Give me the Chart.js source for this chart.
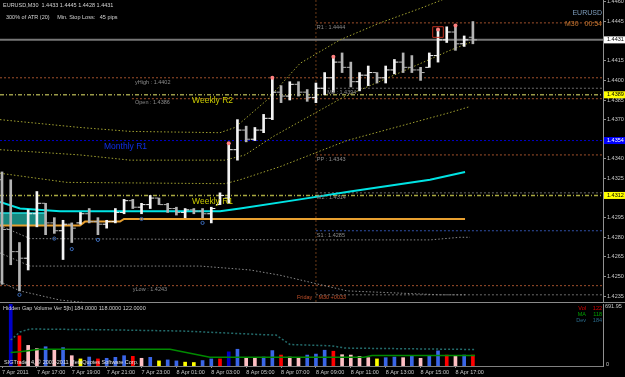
<!DOCTYPE html>
<html>
<head>
<meta charset="utf-8">
<title>EURUSD M30</title>
<script src="https://cdn.jsdelivr.net/npm/chart.js@4.4.1/dist/chart.umd.min.js"></script>
<style>
  html, body { margin: 0; padding: 0; background: #000; }
  #wrap { position: relative; width: 625px; height: 377px; overflow: hidden; background: #000; }
  #precos { position: absolute; left: 0; top: 0; }
  #volume { position: absolute; left: 0; top: 304px; }
  .sep { position: absolute; left: 0; width: 625px; height: 1px; background: #8a8a8a; }
</style>
</head>
<body>
<div id="wrap">
  <canvas id="precos" width="625" height="302"></canvas>
  <div class="sep" style="top:302px"></div>
  <canvas id="volume" width="625" height="73"></canvas>
</div>
<script>
// ---- dados (barras M30, indice 0 = 7 Apr 15:00) ----
const opens  = [1.4324,1.4286,1.4269,1.4264,1.4298,1.4306,1.4291,1.4285,1.4290,1.4291,
                1.4298,1.4292,1.4290,1.4292,1.4299,1.4308,1.4303,1.4305,1.4310,1.4305,
                1.4302,1.4299,1.4301,1.4300,1.4298,1.4305,1.4310,1.4347,1.4362,1.4355,
                1.4362,1.4371,1.4391,1.4388,1.4397,1.4391,1.4387,1.4394,1.4402,1.4414,
                1.4410,1.4399,1.4404,1.4406,1.4402,1.4408,1.4414,1.4410,1.4408,1.4410,
                1.4419,1.4431,1.4437,1.4428,1.4433];
const highs  = [1.4330,1.4324,1.4276,1.4301,1.4315,1.4306,1.4295,1.4293,1.4291,1.4299,
                1.4302,1.4295,1.4293,1.4302,1.4309,1.4309,1.4306,1.4312,1.4310,1.4306,
                1.4303,1.4302,1.4302,1.4302,1.4303,1.4314,1.4352,1.4370,1.4365,1.4364,
                1.4374,1.4402,1.4396,1.4399,1.4399,1.4393,1.4398,1.4406,1.4418,1.4421,
                1.4414,1.4406,1.4411,1.4406,1.4411,1.4416,1.4421,1.4419,1.4410,1.4421,
                1.4439,1.4441,1.4442,1.4434,1.4445];
const lows   = [1.4244,1.4259,1.4239,1.4255,1.4288,1.4282,1.4283,1.4263,1.4276,1.4290,
                1.4291,1.4282,1.4287,1.4291,1.4298,1.4302,1.4298,1.4302,1.4305,1.4299,
                1.4297,1.4295,1.4298,1.4295,1.4291,1.4305,1.4306,1.4339,1.4353,1.4354,
                1.4360,1.4370,1.4383,1.4385,1.4388,1.4384,1.4383,1.4389,1.4391,1.4406,
                1.4395,1.4392,1.4396,1.4398,1.4398,1.4405,1.4406,1.4406,1.4400,1.4410,
                1.4414,1.4429,1.4423,1.4426,1.4428];
const closes = [1.4286,1.4269,1.4264,1.4298,1.4306,1.4291,1.4285,1.4290,1.4287,1.4298,
                1.4292,1.4290,1.4292,1.4299,1.4308,1.4303,1.4305,1.4310,1.4305,1.4302,
                1.4299,1.4301,1.4300,1.4298,1.4302,1.4312,1.4347,1.4362,1.4355,1.4362,
                1.4371,1.4391,1.4388,1.4397,1.4391,1.4387,1.4394,1.4402,1.4414,1.4410,
                1.4399,1.4404,1.4406,1.4402,1.4408,1.4414,1.4410,1.4408,1.4406,1.4419,
                1.4431,1.4437,1.4428,1.4431,1.4431];

const fractalBars = [26, 31, 38, 50, 52];
const lowMarkBars = [2, 6, 8, 11, 16, 23];
const lowMarkPrices = [1.4236, 1.4279, 1.4271, 1.4278, 1.4294, 1.4291];
const boxedBar = 50;
const boxedPrice = 1.4437;

// linhas de indicadores: [barra, preco]
const bandUpper = [[-0.23,1.4370],[8.94,1.4364],[14.68,1.4361],[25.0,1.4360],[26.72,1.4364],[30.39,1.4385],
                   [34.17,1.4413],[38.76,1.4431],[43.35,1.4444],[47.94,1.4455],[51.38,1.4464]];
const bandMiddle = [[-0.23,1.4347],[8.94,1.4343],[14.68,1.4339],[25.57,1.4339],[27.87,1.4343],[31.08,1.4357],
                    [39.1,1.4387],[45.64,1.4406],[51.38,1.4423],[53.67,1.4429]];
const bandLower = [[-0.23,1.4329],[7.45,1.4322],[25.57,1.4321],[27.29,1.4324],[31.88,1.4334],[39.56,1.4354],
                   [51.15,1.4375],[53.67,1.4380]];
const grayBand1 = [[-0.23,1.4289],[3.21,1.4279],[34.17,1.4278],[49.08,1.4278],[52.52,1.4280],[53.67,1.4280]];
const grayBand2 = [[-0.23,1.4268],[3.21,1.4258],[22.71,1.4258],[28.44,1.4255],[31.88,1.4251],[39.56,1.4239],
                   [50.23,1.4236],[53.1,1.4236]];
const grayBand3 = [[-0.23,1.4246],[2.06,1.4239],[6.65,1.4232],[11.24,1.4229]];
const cyanMA = [[-0.23,1.4307],[2.06,1.4302],[6.65,1.4300],[25.0,1.4300],[27.29,1.4302],[34.17,1.4309],
                [39.91,1.4315],[49.08,1.4324],[53.1,1.4330]];
const orangeLine = [[-0.23,1.4289],[8.94,1.4289],[9.52,1.4292],[13.53,1.4292],[13.99,1.4294],[53.1,1.4294]];
const gapZoneBars = [-0.23, 4.93];
const gapZoneTop = 1.42985;
const gapZoneBottom = 1.4289;

// niveis horizontais
const levelNames    = ['R1', 'Bid', 'yHigh', 'M3', 'Weekly R2', 'Open', 'Monthly R1', 'PP', 'M2', 'Weekly R1', 'S1', 'yLow', 'M1'];
const levelPrices   = [1.4444, 1.4431, 1.4402, 1.4394, 1.4389, 1.4386, 1.4354, 1.4343, 1.4314, 1.4312, 1.4285, 1.4243, 1.4236];
const levelFromBar  = [36, -0.23, -0.23, 36, -0.23, 14.9, -0.23, 36, 36, -0.23, 36, -0.23, 36];
const captionBar    = [36.1, null, 15.25, 37.3, null, 15.25, null, 36.1, 36.1, null, 36.1, 15.0, null];
const bigLabelNames = ['Weekly R2', 'Monthly R1', 'Weekly R1'];
const bigLabelBar   = [21.8, 11.7, 21.8];
const sessionBar = 36;

// eixo de precos
const priceTicks = [1.4460, 1.4445, 1.4415, 1.4400, 1.4385, 1.4370, 1.4340, 1.4325, 1.4295, 1.4280, 1.4265, 1.4250, 1.4235];
const boxLevels = ['Bid', 'Weekly R2', 'Monthly R1', 'Weekly R1'];

// volume
const volumes = [null,692,337,230,194,215,180,205,115,79,100,
                 79,86,97,115,108,86,97,57,68,57,
                 43,39,61,79,79,158,187,93,93,100,
                 172,122,100,86,122,133,176,165,126,122,
                 108,93,79,93,100,93,108,86,115,169,
                 122,115,122,122];
const volKinds = ('-drppbpbpyb' + 'rbbbrpbybb' + 'yybbrdbppb' + 'brppbbbrpp' + 'ppybbpbpbb' + 'rpbr').split('');
const volMA  = [[1,150],[2.06,158],[4.36,187],[19.27,187],[23.85,97],[41.51,97],[42.43,118],[54.24,118]];
const volDev = [[1,290],[2.06,380],[3.21,413],[11.24,405],[20.76,390],[29.93,350],[31.42,345],[33.03,240],
                [37.84,225],[39.33,200],[54.24,184]];
const volMax = 691.95;

const timeLabels = ['7 Apr 2011', '7 Apr 17:00', '7 Apr 19:00', '7 Apr 21:00', '7 Apr 23:00', '8 Apr 01:00', '8 Apr 03:00',
                    '8 Apr 05:00', '8 Apr 07:00', '8 Apr 09:00', '8 Apr 11:00', '8 Apr 13:00', '8 Apr 15:00', '8 Apr 17:00'];
const timeLabelBars = [0, 4, 8, 12, 16, 20, 24, 28, 32, 36, 40, 44, 48, 52];

// ---- estilos ----
const FONTE = '"Liberation Sans", Arial, sans-serif';
const X_MIN = -0.23, X_MAX = 68.92;
const P_MIN = 1.42305, P_MAX = 1.44615;

const levelStyle = {
  'R1':         { color: '#a0502c', dash: [2, 2], width: 1 },
  'Bid':        { color: '#767676', dash: [], width: 2 },
  'yHigh':      { color: '#a0502c', dash: [2, 2], width: 1 },
  'M3':         { color: '#6a6a6a', dash: [2, 2], width: 1 },
  'Weekly R2':  { color: '#9a9a48', dash: [4, 2, 1, 2], width: 1.5 },
  'Open':       { color: '#a0502c', dash: [2, 2], width: 1 },
  'Monthly R1': { color: '#0000c8', dash: [2, 2], width: 1 },
  'PP':         { color: '#a0502c', dash: [2, 2], width: 1 },
  'M2':         { color: '#6a6a6a', dash: [2, 2], width: 1 },
  'Weekly R1':  { color: '#a8a840', dash: [4, 2, 1, 2], width: 1.5 },
  'S1':         { color: '#3050a8', dash: [2, 2], width: 1 },
  'yLow':       { color: '#a0502c', dash: [2, 2], width: 1 },
  'M1':         { color: '#6a6a6a', dash: [2, 2], width: 1 }
};
const bigLabelColors = ['#cccc00', '#1030e8', '#cccc00'];
const boxFill = { 'Bid': '#ffffff', 'Weekly R2': '#ffff00', 'Monthly R1': '#0000ff', 'Weekly R1': '#ffff00' };
const boxInk  = { 'Bid': '#000000', 'Weekly R2': '#000000', 'Monthly R1': '#ffffff', 'Weekly R1': '#000000' };
const volPalette = { r: '#ff0000', p: '#ffc0c4', b: '#3a66e8', y: '#ffff00', d: '#0000c8', '-': '#000000' };

const pts = arr => arr.map(([x, y]) => ({ x, y }));
function linha(arr, color, dash, width, order) {
  return { type: 'line', data: pts(arr), borderColor: color, borderDash: dash, borderWidth: width,
           pointRadius: 0, fill: false, tension: 0, order: order };
}

// ---- grafico de precos ----
const datasets = [];
datasets.push({ type: 'line', data: gapZoneBars.map(x => ({ x, y: gapZoneBottom })), borderWidth: 0,
                borderColor: 'rgba(0,0,0,0)', pointRadius: 0, fill: false, order: 30 });
datasets.push({ type: 'line', data: gapZoneBars.map(x => ({ x, y: gapZoneTop })), borderWidth: 1.5,
                borderColor: '#20e0e0', backgroundColor: 'rgba(27,150,140,0.9)', pointRadius: 0, fill: '-1', order: 29 });

levelNames.forEach((n, i) => {
  const s = levelStyle[n];
  datasets.push(linha([[levelFromBar[i], levelPrices[i]], [X_MAX, levelPrices[i]]], s.color, s.dash, s.width, 20));
});
datasets.push(linha([[sessionBar, P_MAX], [sessionBar, P_MIN]], '#6a3a18', [2, 2], 1, 20));

datasets.push(linha(bandUpper, '#a0a030', [1.5, 2], 1, 15));
datasets.push(linha(bandMiddle, '#a0a030', [1.5, 2], 1, 15));
datasets.push(linha(bandLower, '#a0a030', [1.5, 2], 1, 15));
datasets.push(linha(grayBand1, '#8a8a8a', [1.5, 2], 1, 15));
datasets.push(linha(grayBand2, '#8a8a8a', [1.5, 2], 1, 15));
datasets.push(linha(grayBand3, '#8a8a8a', [1.5, 2], 1, 15));
datasets.push(linha(cyanMA, '#00e4e4', [], 2, 12));
datasets.push(linha(orangeLine, '#e8a030', [], 2, 12));

const barColors = closes.map((c, i) => c >= opens[i] ? '#f4f4f4' : '#b4b4b4');
datasets.push({ type: 'bar', data: highs.map((h, i) => ({ x: i, y: [lows[i], h] })),
                backgroundColor: barColors, borderWidth: 0, barThickness: 2, order: 5 });
datasets.push({ type: 'line', showLine: false, data: opens.map((o, i) => ({ x: i - 0.27, y: o })),
                pointStyle: 'line', pointRadius: 1.7, pointBorderWidth: 1, pointBorderColor: barColors, order: 4 });
datasets.push({ type: 'line', showLine: false, data: closes.map((c, i) => ({ x: i + 0.27, y: c })),
                pointStyle: 'line', pointRadius: 1.7, pointBorderWidth: 1, pointBorderColor: barColors, order: 4 });
datasets.push({ type: 'line', showLine: false, data: fractalBars.map(b => ({ x: b, y: highs[b] })),
                pointRadius: 2, pointBackgroundColor: '#ff8080', pointBorderWidth: 0, order: 3 });
datasets.push({ type: 'line', showLine: false, data: lowMarkBars.map((b, i) => ({ x: b, y: lowMarkPrices[i] })),
                pointRadius: 1.6, pointBackgroundColor: 'rgba(0,0,0,0)', pointBorderColor: '#3a6ab8', pointBorderWidth: 1, order: 3 });
datasets.push({ type: 'line', showLine: false, data: [{ x: boxedBar, y: boxedPrice }],
                pointStyle: 'rect', pointRadius: 7.5, pointBackgroundColor: 'rgba(0,0,0,0)', pointBorderColor: '#c03020', pointBorderWidth: 1, order: 3 });

const textoPrecos = {
  id: 'textoPrecos',
  afterDraw(chart) {
    const { ctx } = chart;
    const x = chart.scales.x, y = chart.scales.y;
    ctx.save();
    ctx.textAlign = 'left';
    ctx.textBaseline = 'top';
    ctx.font = '5.5px ' + FONTE;
    ctx.fillStyle = '#8c8c8c';
    levelNames.forEach((n, i) => {
      if (captionBar[i] === null) return;
      ctx.fillText(n + ' : ' + levelPrices[i].toFixed(4), x.getPixelForValue(captionBar[i]), y.getPixelForValue(levelPrices[i]) + 1.5);
    });
    ctx.font = '8.5px ' + FONTE;
    bigLabelNames.forEach((n, i) => {
      ctx.fillStyle = bigLabelColors[i];
      ctx.fillText(n, x.getPixelForValue(bigLabelBar[i]), y.getPixelForValue(levelPrices[levelNames.indexOf(n)]) + 1.5);
    });

    ctx.font = '5.5px ' + FONTE;
    ctx.fillStyle = '#d4d4d4';
    ctx.fillText('EURUSD,M30  1.4433 1.4445 1.4428 1.4431', 3, 3);
    ctx.fillText('300% of ATR (20)     Min. Stop Loss:   45 pips', 6, 15);
    ctx.fillStyle = '#c0502a';
    ctx.fillText('Friday    M30 +0033', 297, 295);

    ctx.textAlign = 'right';
    ctx.font = '7px ' + FONTE;
    ctx.fillStyle = '#7f9fbf';
    ctx.fillText('EURUSD', 602, 10);
    ctx.fillStyle = '#c87830';
    ctx.fillText('M30   00:54', 602, 21);

    // etiquetas do eixo de precos
    ctx.textAlign = 'left';
    ctx.textBaseline = 'middle';
    ctx.font = '5.5px ' + FONTE;
    ctx.fillStyle = '#c8c8c8';
    priceTicks.forEach(p => ctx.fillText(p.toFixed(4), 607, y.getPixelForValue(p)));
    boxLevels.forEach(n => {
      const p = levelPrices[levelNames.indexOf(n)];
      const py = y.getPixelForValue(p);
      ctx.fillStyle = boxFill[n];
      ctx.fillRect(604, py - 3.5, 21, 7);
      ctx.fillStyle = boxInk[n];
      ctx.fillText(p.toFixed(4), 607, py);
    });
    ctx.restore();
  }
};

new Chart(document.getElementById('precos'), {
  type: 'line',
  data: { datasets: datasets },
  options: {
    responsive: false, animation: false, devicePixelRatio: 1, events: [],
    layout: { padding: 0, autoPadding: false },
    plugins: { legend: { display: false }, tooltip: { enabled: false } },
    scales: {
      x: { type: 'linear', min: X_MIN, max: X_MAX, offset: false, grid: { offset: false }, display: false },
      y: {
        type: 'linear', position: 'right', min: P_MIN, max: P_MAX,
        afterBuildTicks: s => { s.ticks = priceTicks.map(v => ({ value: v })); },
        afterFit: s => { s.width = 22; },
        ticks: { display: false },
        grid: { drawOnChartArea: false, drawTicks: true, tickLength: 3, color: '#909090' },
        border: { display: true, color: '#909090', width: 1 }
      }
    }
  },
  plugins: [textoPrecos]
});

// ---- grafico de volume ----
const volData = [], volColors = [];
volumes.forEach((v, i) => {
  if (v === null) return;
  volData.push({ x: i, y: v });
  volColors.push(volPalette[volKinds[i]]);
});

const textoVolume = {
  id: 'textoVolume',
  afterDraw(chart) {
    const { ctx } = chart;
    const y = chart.scales.y;
    ctx.save();
    ctx.font = '5.5px ' + FONTE;
    ctx.textBaseline = 'middle';
    ctx.textAlign = 'left';
    ctx.fillStyle = '#d0d0d0';
    ctx.fillText('Hidden Gap Volume Ver 5[b] 184.0000 118.0000 122.0000', 3, 4);
    ctx.fillStyle = '#e0e0e0';
    ctx.fillText('SIGTrader 4, \u00a9 2001-2011 MetaQuotes Software Corp.', 4, 58);
    ctx.fillStyle = '#c8c8c8';
    ctx.fillText(volMax.toFixed(2), 605, y.getPixelForValue(volMax) + 2);
    ctx.fillText('0', 606, y.getPixelForValue(0) - 2);

    const rows = [['Vol', volumes[volumes.length - 1], '#e00000'], ['MA', 118, '#00a000'], ['Dev', 184, '#2a6a8a']];
    rows.forEach((r, i) => {
      ctx.fillStyle = r[2];
      ctx.textAlign = 'right';
      ctx.fillText(r[0], 586, 4 + i * 6);
      ctx.fillText(String(r[1]), 602, 4 + i * 6);
    });
    ctx.restore();
  }
};

new Chart(document.getElementById('volume'), {
  type: 'bar',
  data: {
    datasets: [
      { type: 'line', data: pts(volMA), borderColor: '#008a00', borderWidth: 1.5, pointRadius: 0, tension: 0, order: 1 },
      { type: 'line', data: pts(volDev), borderColor: '#236b6b', borderDash: [2, 2], borderWidth: 1.5, pointRadius: 0, tension: 0, order: 2 },
      { type: 'bar', data: volData, backgroundColor: volColors, borderWidth: 0, barThickness: 3, order: 3 }
    ]
  },
  options: {
    responsive: false, animation: false, devicePixelRatio: 1, events: [],
    layout: { padding: 0, autoPadding: false },
    plugins: { legend: { display: false }, tooltip: { enabled: false } },
    scales: {
      x: {
        type: 'linear', min: X_MIN, max: X_MAX, position: 'bottom', offset: false,
        afterBuildTicks: s => { s.ticks = timeLabelBars.map(v => ({ value: v })); },
        afterFit: s => { s.height = 11; },
        ticks: { autoSkip: false, maxRotation: 0, minRotation: 0, align: 'start', padding: 1,
                 color: '#c8c8c8', font: { size: 5.5, family: FONTE },
                 callback: (v, i) => timeLabels[i] },
        grid: { offset: false, drawOnChartArea: false, drawTicks: true, tickLength: 2, color: '#909090' },
        border: { display: true, color: '#808080', dash: [1, 1] }
      },
      y: {
        type: 'linear', position: 'right', min: 0, max: volMax,
        afterFit: s => { s.width = 22; },
        ticks: { display: false },
        grid: { display: false },
        border: { display: true, color: '#909090', width: 1 }
      }
    }
  },
  plugins: [textoVolume]
});
</script>
</body>
</html>
